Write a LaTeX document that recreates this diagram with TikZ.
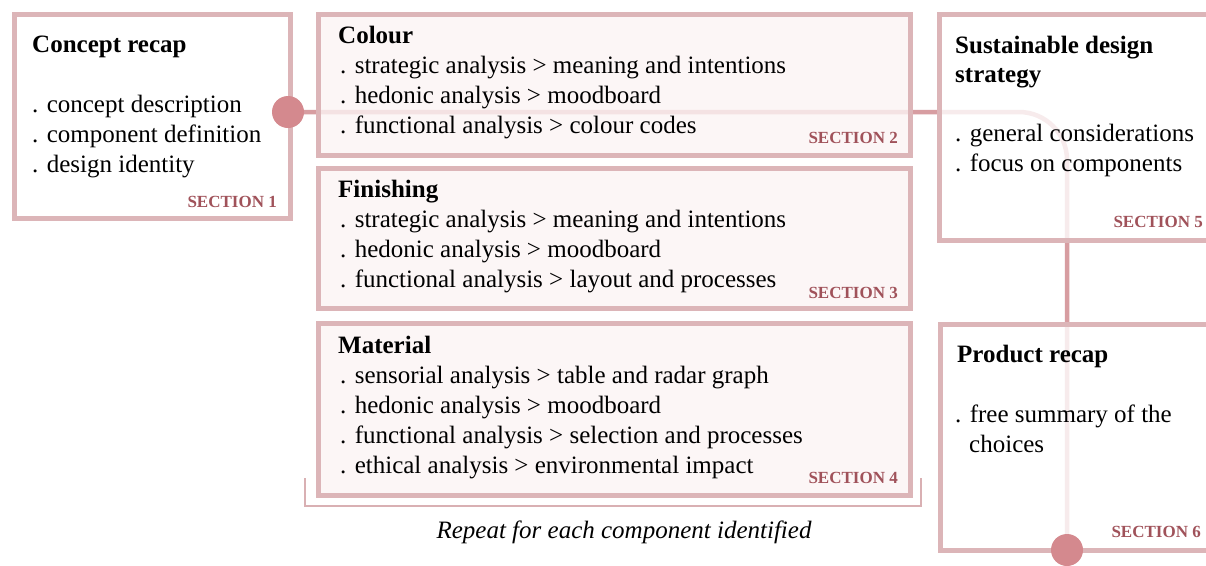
\documentclass[tikz,border=0pt]{standalone}
\usepackage{fontspec}
\setmainfont{Liberation Serif}
\definecolor{frame}{HTML}{DCB5B8}
\definecolor{link}{HTML}{D79DA1}
\definecolor{dot}{HTML}{D4898E}
\definecolor{seclabel}{HTML}{A0525A}
\definecolor{tint}{HTML}{FCF4F4}
\begin{document}
\begin{tikzpicture}[x=1pt,y=-1pt,
  panel/.style={draw=frame, line width=4.5pt, fill=white, fill opacity=0.8, draw opacity=1,
    rectangle, inner sep=0pt, anchor=north west},
  tinted/.style={panel, fill=tint},
  title/.style={anchor=base west, font=\fontsize{25}{30}\selectfont\bfseries, inner sep=0pt},
  item/.style={anchor=base west, font=\fontsize{25}{30}\selectfont, inner sep=0pt},
  sec/.style={anchor=base east, font=\fontsize{17}{20}\selectfont\bfseries, text=seclabel, inner sep=0pt},
  joint/.style={circle, fill=dot, minimum size=32pt, inner sep=0pt},
  flow/.style={link, line width=4.5pt, rounded corners=48pt}]
\useasboundingbox (0,0) rectangle (1206,565);
\clip (0,0) rectangle (1206,565);
\fill[white] (0,0) rectangle (1206,565);

% joints and the route through the sections
\coordinate (j1) at (288,112);
\coordinate (j2) at (1067,550);
\draw[flow] (j1) -| (j2);

% section panels
\node[panel, minimum width=276pt, minimum height=204pt] (s1) at (12,12) {};
\node[tinted, minimum width=592pt, minimum height=141pt] (s2) at (316,12) {};
\node[tinted, minimum width=592pt, minimum height=140pt] (s3) at (316,166) {};
\node[tinted, minimum width=592pt, minimum height=172pt] (s4) at (316,321) {};
\node[panel, minimum width=300pt, minimum height=226pt] (s5) at (937,12) {};
\node[panel, minimum width=300pt, minimum height=226pt] (s6) at (938,322) {};

% bracket under the repeated sections
\coordinate (b1) at (305,478);
\coordinate (b2) at (921,478);
\draw[frame!95!seclabel, line width=2pt] (b1) -- (b1 |- 0,506) -- (b2 |- 0,506) -- (b2);
\node[font=\fontsize{25}{30}\selectfont\itshape, anchor=base, inner sep=0pt] (rep) at (624,538)
  {Repeat for each component identified};

% joint markers
\node[joint] (c1) at (j1) {};
\node[joint] (c2) at (j2) {};

% section 1
\node[title] (t1) at (32,52) {Concept recap};
\node[item] (i11) at (32,112) {. concept description};
\node[item] (i12) at (32,142) {. component definition};
\node[item] (i13) at (32,172) {. design identity};
\node[sec] (l1) at (277,207) {SECTION 1};

% section 2
\node[title] (t2) at (338,43) {Colour};
\node[item] (i21) at (340,73) {. strategic analysis > meaning and intentions};
\node[item] (i22) at (340,103) {. hedonic analysis > moodboard};
\node[item] (i23) at (340,133) {. functional analysis > colour codes};
\node[sec] (l2) at (898,143) {SECTION 2};

% section 3
\node[title] (t3) at (338,197) {Finishing};
\node[item] (i31) at (340,227) {. strategic analysis > meaning and intentions};
\node[item] (i32) at (340,257) {. hedonic analysis > moodboard};
\node[item] (i33) at (340,287) {. functional analysis > layout and processes};
\node[sec] (l3) at (898,298) {SECTION 3};

% section 4
\node[title] (t4) at (338,353) {Material};
\node[item] (i41) at (340,383) {. sensorial analysis > table and radar graph};
\node[item] (i42) at (340,413) {. hedonic analysis > moodboard};
\node[item] (i43) at (340,443) {. functional analysis > selection and processes};
\node[item] (i44) at (340,473) {. ethical analysis > environmental impact};
\node[sec] (l4) at (898,483) {SECTION 4};

% section 5
\node[title] (t5a) at (955,53) {Sustainable design};
\node[title] (t5b) at (955,82) {strategy};
\node[item] (i51) at (955,141) {. general considerations};
\node[item] (i52) at (955,171) {. focus on components};
\node[sec] (l5) at (1203,227) {SECTION 5};

% section 6
\node[title] (t6) at (957,362) {Product recap};
\node[item] (i61) at (955,422) {. free summary of the};
\node[item] (i62) at (969,452) {choices};
\node[sec] (l6) at (1201,537) {SECTION 6};
\end{tikzpicture}
\end{document}
